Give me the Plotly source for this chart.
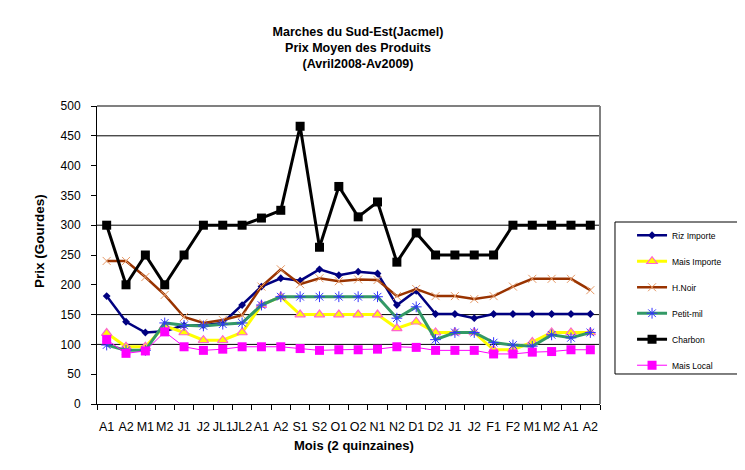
import plotly.graph_objects as go

months = ["A1","A2","M1","M2","J1","J2","JL1","JL2","A1","A2","S1","S2","O1","O2",
          "N1","N2","D1","D2","J1","J2","F1","F2","M1","M2","A1","A2"]
riz_importe = [181,138,120,122,132,132,136,166,197,211,207,226,216,222,219,166,190,151,151,144,151,151,151,151,151,151]
mais_importe = [119,96,96,131,120,107,107,120,166,180,150,150,150,150,150,127,138,120,120,120,91,91,104,120,120,120]
h_noir = [240,240,213,183,146,136,141,149,197,226,201,211,206,209,208,181,193,181,181,176,181,197,210,210,210,191]
petit_mil = [99,90,90,136,132,131,134,136,166,180,180,180,180,180,180,144,163,108,120,120,103,99,97,116,111,120]
charbon = [300,200,250,200,250,300,300,300,312,325,466,263,365,314,339,238,287,250,250,250,250,300,300,300,300,300]
mais_local = [108,85,89,121,96,90,92,96,96,96,93,90,91,91,92,96,95,90,90,90,84,84,87,88,91,91]
grid_values = [100, 150, 300, 450]

x = list(range(len(months)))
FONT = "Liberation Sans, Arial, sans-serif"

fig = go.Figure()
series = [
    ("Riz Importe", riz_importe, dict(color="#000080", width=2.5),
     dict(symbol="diamond", size=6, color="#000080")),
    ("Mais Importe", mais_importe, dict(color="#FFFF00", width=3),
     dict(symbol="triangle-up", size=9, color="#FFFF00", line=dict(color="#FF66CC", width=1.2))),
    ("H.Noir", h_noir, dict(color="#993300", width=2.5),
     dict(symbol="x-thin-open", size=8, color="#E69966", line=dict(color="#E69966", width=1))),
    ("Petit-mil", petit_mil, dict(color="#339966", width=3),
     dict(symbol="asterisk-open", size=9, color="#3333FF", line=dict(color="#3333FF", width=1))),
    ("Charbon", charbon, dict(color="#000000", width=3),
     dict(symbol="square", size=9, color="#000000")),
    ("Mais Local", mais_local, dict(color="#FF00FF", width=1),
     dict(symbol="square", size=9, color="#FF00FF")),
]
for i, (name, vals, line, marker) in enumerate(series):
    fig.add_trace(go.Scatter(x=x, y=vals, name=name, mode="lines+markers",
                             line=line, marker=marker, legendgroup=f"g{i}"))

for v in grid_values:
    fig.add_shape(type="line", xref="paper", yref="y", x0=0, x1=1, y0=v, y1=v,
                  line=dict(color="black", width=1), layer="below")
# gray top and right frame
fig.add_shape(type="line", xref="paper", yref="paper", x0=0, x1=1, y0=1, y1=1,
              line=dict(color="#808080", width=2))
fig.add_shape(type="line", xref="paper", yref="paper", x0=1, x1=1, y0=0, y1=1,
              line=dict(color="#808080", width=2))
# legend box
fig.add_shape(type="rect", xref="paper", yref="paper", x0=1.0298, x1=1.2744, y0=0.1007, y1=0.6107,
              line=dict(color="black", width=1), fillcolor="rgba(0,0,0,0)")

fig.add_annotation(text="<b>Prix (Gourdes)</b>", xref="paper", yref="paper",
                   x=-0.1133, y=0.547, xanchor="center", yanchor="middle", textangle=-90,
                   showarrow=False, font=dict(family=FONT, size=13.5, color="black"))
fig.add_annotation(text="<b>Mois (2 quinzaines)</b>", xref="paper", yref="paper",
                   x=0.511, y=-0.1376, xanchor="center", yanchor="middle",
                   showarrow=False, font=dict(family=FONT, size=13, color="black"))

fig.update_layout(
    width=745, height=470,
    margin=dict(l=89, r=153, t=98, b=74),
    paper_bgcolor="white", plot_bgcolor="white",
    font=dict(family=FONT, color="black", size=11),
    title=dict(text="<b>Marches du Sud-Est(Jacmel)<br>Prix Moyen des Produits<br>(Avril2008-Av2009)</b>",
               x=0.4698, xanchor="center", y=0.9407, yanchor="top",
               font=dict(family=FONT, size=12.5, color="black")),
    showlegend=True,
    legend=dict(x=1.0637, xanchor="left", y=0.615, yanchor="top",
                borderwidth=0, bgcolor="rgba(0,0,0,0)",
                font=dict(family=FONT, size=8.5, color="black"),
                traceorder="grouped", tracegroupgap=7),
    xaxis=dict(range=[-0.5, len(months) - 0.5], tickmode="array", tickvals=x, ticktext=months,
               showgrid=False, zeroline=False, showline=True, linecolor="black", linewidth=1,
               ticks="", tickangle=0, automargin=False, ticklabelstandoff=11,
               tickfont=dict(family=FONT, size=12.5, color="black"),
               minor=dict(tickmode="linear", tick0=-0.5, dtick=1, ticks="outside",
                          ticklen=5, tickcolor="black", showgrid=False)),
    yaxis=dict(range=[0, 500], tickmode="linear", tick0=0, dtick=50, automargin=False,
               showgrid=False, zeroline=False, showline=True, linecolor="black", linewidth=1,
               ticks="outside", ticklen=5, tickcolor="black", ticklabelstandoff=8,
               tickfont=dict(family=FONT, size=12, color="black")),
)

fig.write_html("out.html")
